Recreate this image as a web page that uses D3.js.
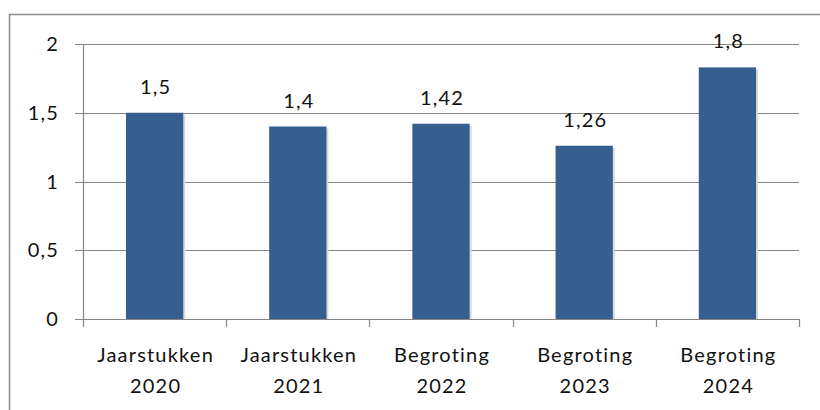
<!DOCTYPE html>
<html>
<head>
<meta charset="utf-8">
<script src="https://cdn.jsdelivr.net/npm/d3@7"></script>
<style>
  body { margin: 0; background: #fff; }
  text { font-family: Lato, "Open Sans", sans-serif; fill: #111; font-size: 20px; letter-spacing: 1.2px; }
</style>
</head>
<body>
<div id="chart"></div>
<script>
// Data
const categories = [["Jaarstukken", "2020"], ["Jaarstukken", "2021"], ["Begroting", "2022"], ["Begroting", "2023"], ["Begroting", "2024"]];
const values = [1.5, 1.4, 1.42, 1.26, 1.83];
const valueLabels = ["1,5", "1,4", "1,42", "1,26", "1,8"];
const yTicks = [0, 0.5, 1, 1.5, 2];
const yTickLabels = ["0", "0,5", "1", "1,5", "2"];

const W = 820, H = 410;
const margin = { top: 44, right: 21, bottom: 91, left: 83 };
const width = W - margin.left - margin.right;
const height = H - margin.top - margin.bottom;

const svg = d3.select("#chart").append("svg")
    .attr("width", W)
    .attr("height", H);

// outer chart border (runs off the right and bottom edges)
svg.append("rect")
    .attr("x", 9.5).attr("y", 14.5)
    .attr("width", 830).attr("height", 420)
    .attr("fill", "none")
    .attr("stroke", "#8c8c8c")
    .attr("stroke-width", 1.5);

const g = svg.append("g")
    .attr("transform", "translate(" + margin.left + "," + margin.top + ")");

const x = d3.scaleBand()
    .domain(d3.range(categories.length))
    .range([0, width])
    .paddingInner(0.6)
    .paddingOuter(0.3);

const y = d3.scaleLinear()
    .domain([0, 2])
    .range([height, 0]);

// gridlines
g.selectAll(".grid")
    .data(yTicks)
    .enter().append("line")
    .attr("x1", -8)
    .attr("x2", width)
    .attr("y1", d => Math.round(y(d)) + 0.5)
    .attr("y2", d => Math.round(y(d)) + 0.5)
    .attr("stroke", "#868686")
    .attr("stroke-width", 1.2);

// y axis line
g.append("line")
    .attr("x1", 0.5).attr("x2", 0.5)
    .attr("y1", 0).attr("y2", height)
    .attr("stroke", "#868686")
    .attr("stroke-width", 1.2);

// y tick labels
g.selectAll(".ylab")
    .data(yTicks)
    .enter().append("text")
    .attr("x", -24)
    .attr("y", d => y(d))
    .attr("dy", "0.35em")
    .attr("text-anchor", "end")
    .text((d, i) => yTickLabels[i]);

// category tick marks on x axis
const step = width / categories.length;
g.selectAll(".xtick")
    .data(d3.range(categories.length + 1))
    .enter().append("line")
    .attr("x1", d => Math.round(d * step) + 0.5)
    .attr("x2", d => Math.round(d * step) + 0.5)
    .attr("y1", height)
    .attr("y2", height + 8)
    .attr("stroke", "#868686")
    .attr("stroke-width", 1.2);

// bar shadows
g.selectAll(".shadow")
    .data(values)
    .enter().append("rect")
    .attr("x", (d, i) => x(i) + 2)
    .attr("y", d => y(d) + 2)
    .attr("width", x.bandwidth())
    .attr("height", d => height - y(d) - 2)
    .attr("fill", "#d8d8d8");

// bars
g.selectAll(".bar")
    .data(values)
    .enter().append("rect")
    .attr("x", (d, i) => x(i))
    .attr("y", d => y(d))
    .attr("width", x.bandwidth())
    .attr("height", d => height - y(d))
    .attr("fill", "#365e8f");

// value labels
g.selectAll(".vlab")
    .data(values)
    .enter().append("text")
    .attr("x", (d, i) => x(i) + x.bandwidth() / 2 + 1)
    .attr("y", d => y(d) - 26)
    .attr("dy", "0.35em")
    .attr("text-anchor", "middle")
    .text((d, i) => valueLabels[i]);

// category labels
categories.forEach((c, i) => {
    const t = g.append("text")
        .attr("text-anchor", "middle");
    c.forEach((line, j) => {
        t.append("tspan")
            .attr("x", x(i) + x.bandwidth() / 2 + 1)
            .attr("y", height + 36 + j * 31)
            .attr("dy", "0.35em")
            .text(line);
    });
});
</script>
</body>
</html>
